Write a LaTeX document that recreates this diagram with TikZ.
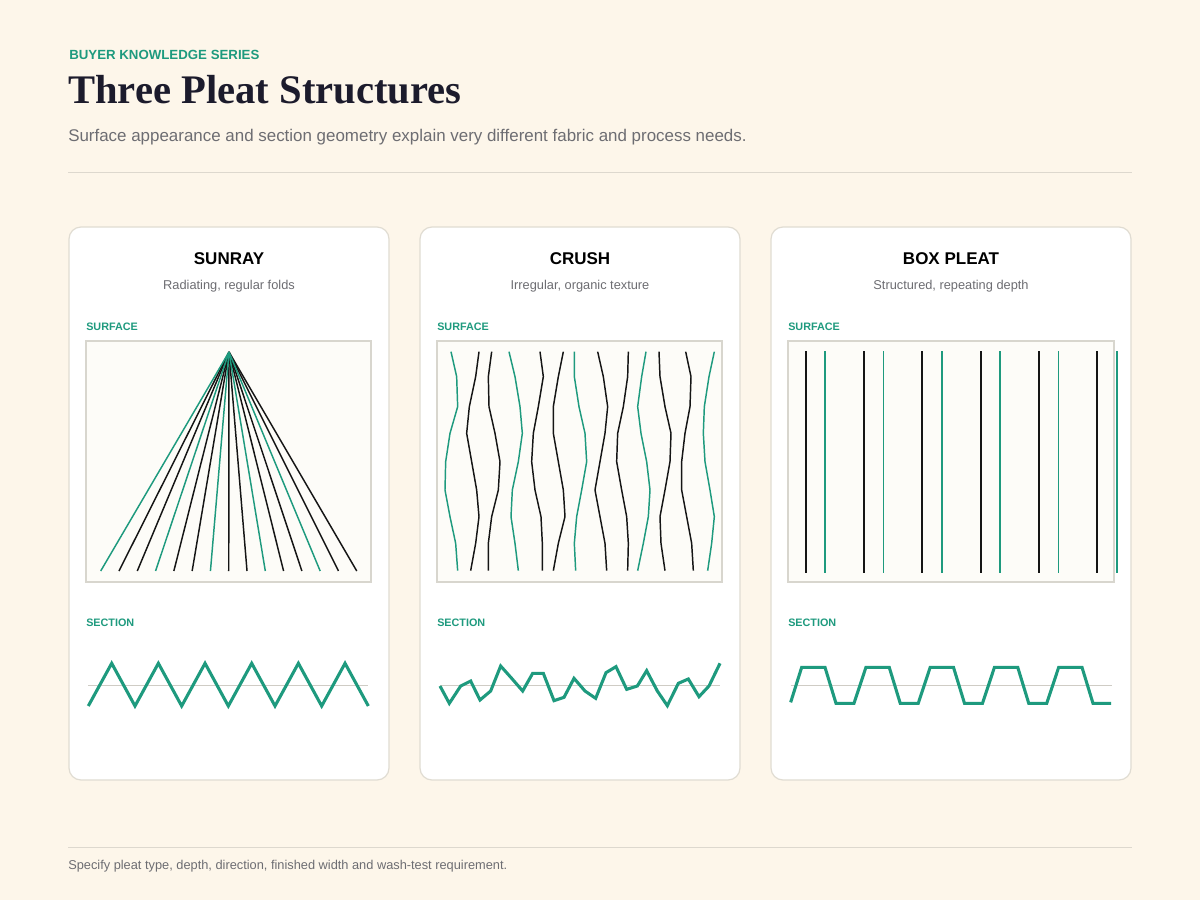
\documentclass[tikz,border=0pt]{standalone}
\usepackage{fontspec}
\setmainfont{Liberation Serif}
\setsansfont{Liberation Sans}

\definecolor{pagecream}{HTML}{FDF6EA}
\definecolor{pleatgreen}{HTML}{1E9A7E}
\definecolor{inkdark}{HTML}{1C1B2C}
\definecolor{textgrey}{HTML}{6D6D72}
\definecolor{rulegrey}{HTML}{DDD8CE}
\definecolor{cardline}{HTML}{E0DCD2}
\definecolor{swatchfill}{HTML}{FDFCF8}
\definecolor{swatchline}{HTML}{D8D6CE}
\definecolor{midgrey}{HTML}{CFCCC5}
\definecolor{foldblack}{HTML}{151515}

\tikzset{
  card/.style={draw=cardline, fill=white, line width=0.9pt, rounded corners=9pt},
  swatch/.style={draw=swatchline, fill=swatchfill, line width=1.1pt},
  kicker/.style={anchor=base west, inner sep=0pt, text=pleatgreen, font=\sffamily\bfseries\fontsize{9.95}{12}\selectfont},
  cardtitle/.style={anchor=base, inner sep=0pt, text=black, font=\sffamily\bfseries\fontsize{12.75}{15}\selectfont},
  cardsub/.style={anchor=base, inner sep=0pt, text=textgrey, font=\sffamily\fontsize{9.6}{12}\selectfont},
  partlabel/.style={anchor=base west, inner sep=0pt, text=pleatgreen, font=\sffamily\bfseries\fontsize{8.1}{10}\selectfont},
  greenfold/.style={pleatgreen, line width=1.1pt},
  blackfold/.style={foldblack, line width=1.1pt},
  sectionline/.style={pleatgreen, line width=2.3pt},
  midline/.style={midgrey, line width=0.75pt}
}

\begin{document}
\begin{tikzpicture}[x=0.75pt,y=-0.75pt]
\fill[pagecream] (0,0) rectangle (1200,900);
\useasboundingbox (0,0) rectangle (1200,900);

% header
\node[kicker] (series) at (69,59.3) {BUYER KNOWLEDGE SERIES};
\node[anchor=base west, inner sep=0pt, text=inkdark, font=\bfseries\fontsize{30.45}{34}\selectfont] (title) at (68,103) {Three Pleat Structures};
\node[anchor=base west, inner sep=0pt, text=textgrey, font=\sffamily\fontsize{12.7}{15}\selectfont] (lede) at (68,141) {Surface appearance and section geometry explain very different fabric and process needs.};
\draw[rulegrey, line width=0.9pt] (68,172.5) -- (1132,172.5);

% cards
\draw[card] (69,227) rectangle (389,780);
\draw[card] (420,227) rectangle (740,780);
\draw[card] (771,227) rectangle (1131,780);

% sunray
\node[cardtitle] (sunray) at (229,264.3) {SUNRAY};
\node[cardsub] (sunraysub) at (229,289) {Radiating, regular folds};
\node[partlabel] (sunraysurf) at (86,330.3) {SURFACE};
\draw[swatch] (86,341) rectangle (371,582);
\coordinate (apex) at (229,352);
\foreach \i in {1,2,4,5,7,8,10,11,13,14}
  \draw[blackfold] (apex) -- ({100.7+18.29*\i},571);
\foreach \i in {0,3,6,9,12}
  \draw[greenfold] (apex) -- ({100.7+18.29*\i},571);
\node[partlabel] (sunraysec) at (86,626) {SECTION};
\draw[midline] (88,685.3) -- (368,685.3);
\draw[sectionline] (88.3,706) \foreach \k in {0,...,5} { -- ({111.7+46.67*\k},663.3) -- ({135+46.67*\k},706) };

% crush
\node[cardtitle] (crush) at (580,264.3) {CRUSH};
\node[cardsub] (crushsub) at (580,289) {Irregular, organic texture};
\node[partlabel] (crushsurf) at (437,330.3) {SURFACE};
\draw[swatch] (437,341) rectangle (722,582);
\begin{scope}[shift={(435,340)}, scale=1/3]
\draw[greenfold] (48,35) -- (65,110) -- (68,200) -- (45,280) -- (32,365) -- (30,450) -- (45,530) -- (62,610) -- (68,692);
\draw[blackfold] (132,35) -- (122,110) -- (103,200) -- (95,280) -- (110,365) -- (125,450) -- (132,530) -- (122,610) -- (107,692);
\draw[blackfold] (170,35) -- (160,110) -- (162,200) -- (180,280) -- (195,365) -- (190,450) -- (170,530) -- (160,610) -- (160,692);
\draw[greenfold] (222,35) -- (240,110) -- (255,200) -- (262,280) -- (250,365) -- (232,450) -- (228,530) -- (240,610) -- (250,692);
\draw[blackfold] (315,35) -- (325,110) -- (310,200) -- (295,280) -- (290,365) -- (300,450) -- (318,530) -- (322,610) -- (322,692);
\draw[blackfold] (385,35) -- (370,110) -- (355,200) -- (355,280) -- (370,365) -- (385,450) -- (390,530) -- (370,610) -- (355,692);
\draw[greenfold] (418,35) -- (418,110) -- (432,200) -- (450,280) -- (455,365) -- (440,450) -- (425,530) -- (418,610) -- (422,692);
\draw[blackfold] (488,35) -- (505,110) -- (518,200) -- (510,280) -- (495,365) -- (480,450) -- (495,530) -- (510,610) -- (515,692);
\draw[blackfold] (580,35) -- (578,110) -- (565,200) -- (548,280) -- (545,365) -- (560,450) -- (575,530) -- (580,610) -- (578,692);
\draw[greenfold] (633,35) -- (620,110) -- (608,200) -- (618,280) -- (635,365) -- (645,450) -- (640,530) -- (625,610) -- (608,692);
\draw[blackfold] (672,35) -- (675,110) -- (690,200) -- (708,280) -- (705,365) -- (690,450) -- (675,530) -- (678,610) -- (690,692);
\draw[blackfold] (752,35) -- (768,110) -- (765,200) -- (750,280) -- (740,365) -- (740,450) -- (755,530) -- (770,610) -- (775,692);
\draw[greenfold] (838,35) -- (822,110) -- (808,200) -- (805,280) -- (810,365) -- (825,450) -- (838,530) -- (830,610) -- (818,692);
\end{scope}
\node[partlabel] (crushsec) at (437,626) {SECTION};
\begin{scope}[shift={(430,610)}, scale=1/3]
\draw[midline] (30,226) -- (870,226);
\draw[sectionline] (30,228) -- (58,280) -- (92,228) -- (122,213) -- (150,270) -- (182,243) -- (212,168) -- (245,205) -- (278,243) -- (308,190) -- (340,190) -- (372,272) -- (402,262) -- (432,205) -- (465,243) -- (497,265) -- (528,188) -- (558,170) -- (590,238) -- (622,228) -- (650,182) -- (682,243) -- (712,287) -- (745,220) -- (775,207) -- (807,260) -- (837,228) -- (870,160);
\end{scope}

% box pleat
\node[cardtitle] (boxpleat) at (951,264.3) {BOX PLEAT};
\node[cardsub] (boxpleatsub) at (951,289) {Structured, repeating depth};
\node[partlabel] (boxsurf) at (788,330.3) {SURFACE};
\draw[swatch] (788,341) rectangle (1114,582);
\foreach \k in {0,...,5} {
  \draw[blackfold, line width=1.4pt] ({805.7+58.33*\k},351) -- ({805.7+58.33*\k},572.5);
  \draw[greenfold, line width=1.4pt] ({825.2+58.33*\k},351) -- ({825.2+58.33*\k},572.5);
}
\node[partlabel] (boxsec) at (788,626) {SECTION};
\begin{scope}[shift={(780,610)}, scale=1/3]
\draw[midline] (32,226) -- (995,226);
\draw[sectionline] (32,277) \foreach \k in {0,...,4} { -- ({65+192.75*\k},172) -- ({135+192.75*\k},172) -- ({168+192.75*\k},280) -- ({222+192.75*\k},280) };
\end{scope}

% footer
\draw[rulegrey, line width=0.9pt] (68,847.5) -- (1132,847.5);
\node[anchor=base west, inner sep=0pt, text=textgrey, font=\sffamily\fontsize{9.6}{12}\selectfont] (footnote) at (68,869) {Specify pleat type, depth, direction, finished width and wash-test requirement.};
\end{tikzpicture}
\end{document}
